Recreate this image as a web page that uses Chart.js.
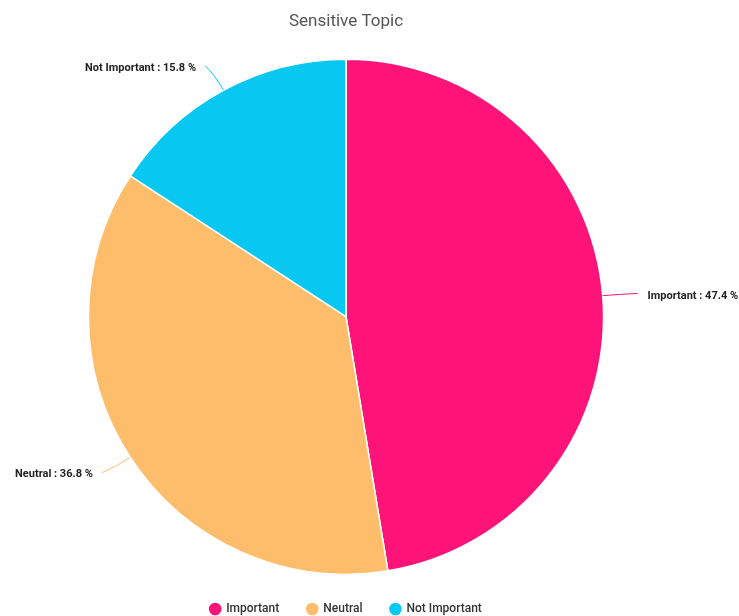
<!DOCTYPE html>
<html>
<head>
<meta charset="utf-8">
<title>Sensitive Topic</title>
<script src="https://cdn.jsdelivr.net/npm/chart.js@4.4.1/dist/chart.umd.min.js"></script>
<style>
    html, body { margin: 0; padding: 0; background: #fff; }
    .chart-wrap { width: 739px; height: 616px; position: relative; }
</style>
</head>
<body>
<div class="chart-wrap"><canvas id="pieChart"></canvas></div>
<script>
const categories = ['Important', 'Neutral', 'Not Important'];
const shares = [47.4, 36.8, 15.8];
const sliceColors = ['#fe1479', '#fdbd6a', '#08c8f1'];

// Callout labels with a short curved leader line from each slice
const calloutLabels = {
    id: 'calloutLabels',
    afterDatasetsDraw(chart) {
        const ctx = chart.ctx;
        const meta = chart.getDatasetMeta(0);
        ctx.save();
        ctx.font = 'bold 11px Roboto, "Liberation Sans", sans-serif';
        ctx.fillStyle = '#222';
        ctx.textBaseline = 'middle';
        meta.data.forEach((arc, i) => {
            const { x, y, startAngle, endAngle, outerRadius } = arc.getProps(['x', 'y', 'startAngle', 'endAngle', 'outerRadius'], true);
            const mid = (startAngle + endAngle) / 2;
            const dx = Math.cos(mid), dy = Math.sin(mid);
            const right = dx >= 0;
            const p0x = x + dx * outerRadius, p0y = y + dy * outerRadius;
            const cpx = p0x + dx * 18, cpy = p0y + dy * 18;
            const ex = p0x + dx * 28 + (right ? 7 : -5), ey = p0y + dy * 28;
            ctx.strokeStyle = sliceColors[i];
            ctx.lineWidth = 1;
            ctx.beginPath();
            ctx.moveTo(p0x, p0y);
            ctx.quadraticCurveTo(cpx, cpy, ex, ey);
            ctx.stroke();
            ctx.textAlign = right ? 'left' : 'right';
            const text = categories[i] + ' : ' + shares[i] + ' %';
            const offY = right ? 3 : (dy < 0 ? 3 : 2);
            ctx.fillText(text, ex + (right ? 10 : -9), ey + offY);
        });
        ctx.restore();
    }
};

const ctx = document.getElementById('pieChart').getContext('2d');
new Chart(ctx, {
    type: 'pie',
    data: {
        labels: categories,
        datasets: [{
            data: shares,
            backgroundColor: sliceColors,
            borderColor: '#ffffff',
            borderWidth: 1.5
        }]
    },
    options: {
        responsive: true,
        maintainAspectRatio: false,
        animation: false,
        layout: { padding: { left: 0, right: 47, top: 0, bottom: -9 } },
        plugins: {
            title: {
                display: true,
                text: 'Sensitive Topic',
                color: '#555',
                font: { family: 'Roboto', size: 17, weight: 'normal' },
                padding: { top: 12, bottom: 26 }
            },
            legend: {
                position: 'bottom',
                labels: {
                    usePointStyle: true,
                    pointStyle: 'circle',
                    boxWidth: 10,
                    boxHeight: 10,
                    padding: 28,
                    color: '#333',
                    font: { family: 'Roboto', size: 12, weight: '500' }
                }
            },
            tooltip: { enabled: false }
        }
    },
    plugins: [calloutLabels]
});
</script>
</body>
</html>
